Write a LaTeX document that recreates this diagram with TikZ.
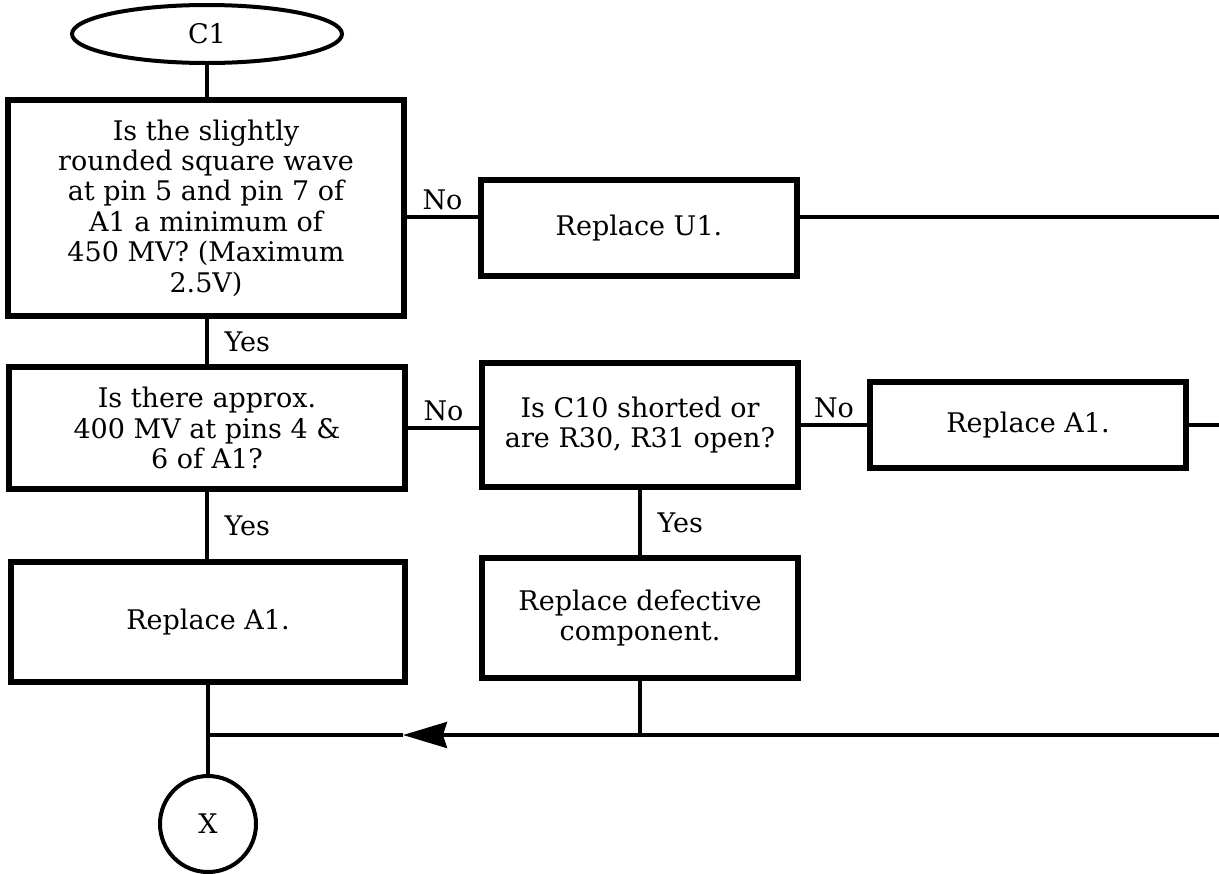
\documentclass[tikz,border=0pt]{standalone}
\usepackage{fontspec}
\setmainfont{DejaVu Serif}
\usetikzlibrary{arrows.meta,positioning,shapes.geometric,calc}

\begin{document}
\begin{tikzpicture}[
    x=0.5pt, y=-0.5pt,
    font=\fontsize{13.5}{15.2}\selectfont,
    terminal/.style={draw, ellipse, line width=2pt, minimum width=135pt, minimum height=29pt, inner sep=0pt},
    connector/.style={draw, circle, line width=2pt, minimum size=48pt, inner sep=0pt},
    stepbox/.style={draw, line width=2.7pt, align=center, inner sep=2pt},
    link/.style={line width=1.6pt},
    no/.style={above, inner sep=3pt},
    yes/.style={right, inner sep=8pt}
  ]
    \useasboundingbox (0,0) rectangle (1219,873);

    \node[terminal] (c1) at (207,34) {C1};
    \node[stepbox, minimum width=198pt, minimum height=108pt] (q1) at (206,208)
      {Is the slightly\\rounded square wave\\at pin 5 and pin 7 of\\A1 a minimum of\\450 MV? (Maximum\\2.5V)};
    \node[stepbox, minimum width=158pt, minimum height=48pt] (u1) at (639,228) {Replace U1.};
    \node[stepbox, minimum width=198pt, minimum height=61pt] (q2) at (207,428)
      {Is there approx.\\400 MV at pins 4 \&\\6 of A1?};
    \node[stepbox, minimum width=158pt, minimum height=62pt] (q3) at (640,425)
      {Is C10 shorted or\\are R30, R31 open?};
    \node[stepbox, minimum width=158pt, minimum height=43pt] (a1r) at (1028,425) {Replace A1.};
    \node[stepbox, minimum width=197pt, minimum height=60pt] (a1l) at (208,622) {Replace A1.};
    \node[stepbox, minimum width=158pt, minimum height=60pt] (fix) at (640,618)
      {Replace defective\\component.};
    \node[connector] (x) at (208,824) {X};

    \coordinate (r1) at (1219,217);
    \coordinate (r2) at (1219,425);
    \coordinate (r3) at (1219,735);
    \coordinate (tip) at (403,735);
    \coordinate (join) at (208,735);

    \draw[link] (c1) -- (q1.north -| c1);
    \draw[link] (q1.east |- r1) -- node[no] {No} (u1.west |- r1);
    \draw[link] (u1.east |- r1) -- (r1);
    \draw[link] (q1.south -| c1) -- node[yes] {Yes} (q2.north -| c1);
    \draw[link] (q2.east) -- node[no] {No} (q2.east -| q3.west);
    \draw[link] (q3.east) -- node[no] {No} (q3.east -| a1r.west);
    \draw[link] (a1r.east) -- (r2);
    \draw[link] (q2.south -| c1) -- node[yes] {Yes} (a1l.north -| c1);
    \draw[link] (q3) -- node[yes] {Yes} (fix);
    \draw[link] (fix.south) -- (fix.south |- r3);
    \draw[link, -{Stealth[length=22pt, width=13pt, inset=2pt]}] (r3) -- (tip);
    \draw[link] (tip) -- (join);
    \draw[link] (a1l) -- (x);
  \end{tikzpicture}
\end{document}
